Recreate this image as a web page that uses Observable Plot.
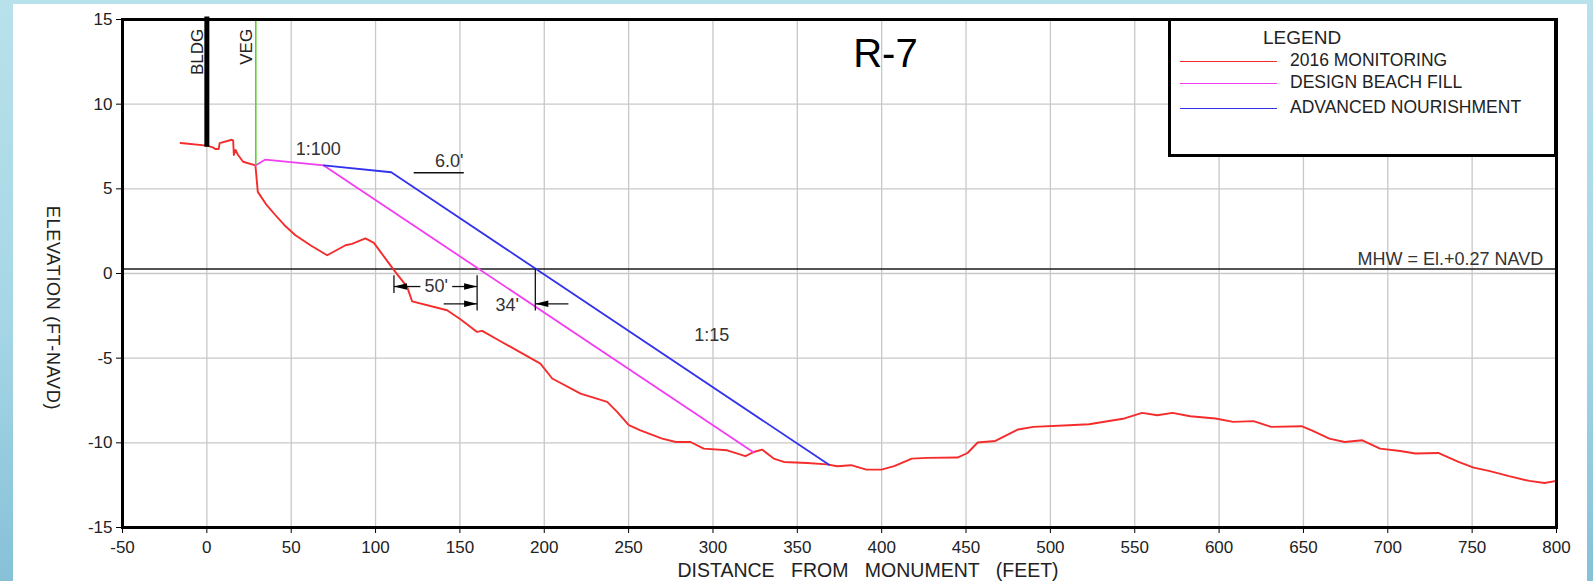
<!DOCTYPE html>
<html>
<head>
<meta charset="utf-8">
<script src="https://cdn.jsdelivr.net/npm/d3@7"></script>
<script src="https://cdn.jsdelivr.net/npm/@observablehq/plot@0.6"></script>
<style>
  html, body { margin: 0; padding: 0; }
  body {
    width: 1593px; height: 581px; overflow: hidden; position: relative;
    background: linear-gradient(180deg, #b8e1eb 0%, #a6d6e6 55%, #86c1d8 100%);
    font-family: "Liberation Sans", Arial, sans-serif;
  }
  #sheet { position: absolute; left: 13px; top: 4px; width: 1574px; height: 577px; background: #fff; }
  #legend {
    position: absolute; left: 1168px; top: 17.5px; width: 389px; height: 139px;
    box-sizing: border-box; border: 3px solid #000; background: #fff; color: #222;
  }
  #legend .t { position: absolute; transform: translateY(-50%); white-space: nowrap; line-height: 1; }
  #legend .l { position: absolute; height: 0; border-top: 1.6px solid; width: 97px; }
</style>
</head>
<body>
<div id="sheet"></div>
<div id="legend"></div>
<script>
// ---------- data ----------
const xTicks = [-50, 0, 50, 100, 150, 200, 250, 300, 350, 400, 450, 500, 550, 600, 650, 700, 750, 800];
const yTicks = [-15, -10, -5, 0, 5, 10, 15];

const seriesNames = ["2016 MONITORING", "DESIGN BEACH FILL", "ADVANCED NOURISHMENT"];
const seriesColors = ["#f42c2c", "#f23ef2", "#3232ec"];

// 2016 monitoring profile [distance ft, elevation ft]
const monitoring2016 = [
  [-15.6, 7.71], [0, 7.55], [3.5, 7.45], [5, 7.35], [7, 7.35], [7.6, 7.7], [14.8, 7.9], [15.6, 7.85],
  [16, 7.0], [17, 7.3], [18.5, 7.0], [21.5, 6.6], [28.8, 6.38], [30.2, 4.82], [35, 4.1], [40.7, 3.44],
  [46, 2.85], [52.5, 2.26], [61.4, 1.67], [71.3, 1.08], [82.2, 1.67], [86, 1.75], [94, 2.07], [99, 1.81],
  [110.9, 0.2], [118.7, -0.79], [121.7, -1.65], [142.4, -2.17], [150.3, -2.7], [160.2, -3.45], [163.2, -3.39],
  [173, -3.94], [197.7, -5.32], [204.7, -6.2], [221.5, -7.09], [237.3, -7.58], [243.2, -8.17], [250.1, -8.96],
  [257, -9.26], [269.9, -9.75], [278, -9.95], [286.7, -9.95], [294.5, -10.34], [308.4, -10.44], [319.2, -10.79],
  [324.2, -10.54], [329.1, -10.4], [336, -10.93], [342, -11.13], [355.8, -11.19], [367.7, -11.27], [373.6, -11.38],
  [381.9, -11.32], [390.9, -11.58], [399.9, -11.58], [407.4, -11.38], [417.9, -10.93], [426.9, -10.89],
  [444.9, -10.87], [450.9, -10.6], [456.9, -9.98], [467.4, -9.89], [480.9, -9.21], [489.9, -9.06], [510.9, -8.96],
  [522.9, -8.9], [543.9, -8.56], [554.4, -8.23], [563.4, -8.37], [572.4, -8.23], [582.9, -8.43], [597.9, -8.56],
  [608.4, -8.76], [620.4, -8.72], [630.9, -9.06], [648.9, -9.02], [654.9, -9.26], [665.4, -9.75], [674.4, -9.95],
  [684.9, -9.85], [695.4, -10.34], [707.4, -10.48], [716.4, -10.63], [729.9, -10.6], [741.9, -11.13],
  [750.9, -11.46], [759.9, -11.66], [771.9, -11.97], [783.9, -12.25], [792.9, -12.37], [800, -12.25]
];
// design beach fill template vertices
const designBeachFill = [[28.8, 6.38], [34.7, 6.73], [69.3, 6.38], [324.2, -10.57]];
// advanced nourishment template vertices
const advancedNourishment = [[69.3, 6.38], [109.3, 5.98], [368.8, -11.3]];

const mhw = 0.27;
const bldg = {x: 0, y1: 7.45, y2: 15.15};
const veg = {x: 29, y1: 6.38, y2: 15};

// annotations (data coordinates)
const titleNote = [{x: 402.2, y: 12.17, text: "R-7"}];
const slopeNotes = [
  {x: 66.0, y: 6.99, text: "1:100"},
  {x: 143.6, y: 6.28, text: "6.0'"},
  {x: 136.0, y: -1.10, text: "50'"},
  {x: 178.0, y: -2.22, text: "34'"},
  {x: 299.3, y: -3.96, text: "1:15"}
];
const mhwNote = [{x: 792.1, y: 0.53, text: "MHW = El.+0.27 NAVD"}];
const verticalNotes = [
  {x: -2.2, y: 14.45, text: "BLDG"},
  {x: 26.85, y: 14.45, text: "VEG"}
];
const dimSegments = [
  {x1: 122.6, y1: 5.95, x2: 152.3, y2: 5.95},    // 6.0' underline
  {x1: 110.9, y1: -0.1, x2: 110.9, y2: -1.15},   // 50' left extension
  {x1: 110.9, y1: -0.77, x2: 126.6, y2: -0.77},  // 50' left leader
  {x1: 145.4, y1: -0.77, x2: 160.2, y2: -0.77},  // 50' right leader
  {x1: 160.2, y1: -0.1, x2: 160.2, y2: -2.19},   // shared extension
  {x1: 140.4, y1: -1.79, x2: 160.2, y2: -1.79},  // 34' left leader
  {x1: 194.7, y1: 0.3, x2: 194.7, y2: -2.19},    // 34' right extension
  {x1: 194.7, y1: -1.79, x2: 214.3, y2: -1.79}   // 34' right leader
];
const arrowsRight = [{x: 160.2, y: -0.77}, {x: 160.2, y: -1.79}];
const arrowsLeft = [{x: 110.9, y: -0.77}, {x: 194.7, y: -1.79}];

const xLabel = "DISTANCE FROM MONUMENT (FEET)";
const yLabel = "ELEVATION (FT-NAVD)";

// ---------- symbols ----------
const arrowRightSym = {draw(ctx) { ctx.moveTo(0, 0); ctx.lineTo(-13, -3.3); ctx.lineTo(-13, 3.3); ctx.closePath(); }};
const arrowLeftSym = {draw(ctx) { ctx.moveTo(0, 0); ctx.lineTo(13, -3.3); ctx.lineTo(13, 3.3); ctx.closePath(); }};

const font = "'Liberation Sans', Arial, Helvetica, sans-serif";

const chart = Plot.plot({
  width: 1574,
  height: 577,
  marginLeft: 109,
  marginRight: 31,
  marginTop: 15,
  marginBottom: 54,
  x: {domain: [-50, 800]},
  y: {domain: [-15, 15]},
  style: {fontFamily: font, fontSize: "17px", color: "#222", background: "transparent", overflow: "visible"},
  marks: [
    Plot.gridX(xTicks, {stroke: "#c8c8c8", strokeOpacity: 1, strokeWidth: 1.3}),
    Plot.gridY(yTicks, {stroke: "#c8c8c8", strokeOpacity: 1, strokeWidth: 1.3}),
    Plot.ruleY([mhw], {stroke: "#1a1a1a", strokeWidth: 1.4}),
    Plot.line(monitoring2016, {x: d => d[0], y: d => d[1], stroke: seriesColors[0], strokeWidth: 1.9}),
    Plot.line(designBeachFill, {x: d => d[0], y: d => d[1], stroke: seriesColors[1], strokeWidth: 1.8}),
    Plot.line(advancedNourishment, {x: d => d[0], y: d => d[1], stroke: seriesColors[2], strokeWidth: 1.8}),
    Plot.ruleX([veg], {x: "x", y1: "y1", y2: "y2", stroke: "#5ad22a", strokeWidth: 1.6}),
    Plot.ruleX([bldg], {x: "x", y1: "y1", y2: "y2", stroke: "#000", strokeWidth: 5}),
    Plot.link(dimSegments, {x1: "x1", y1: "y1", x2: "x2", y2: "y2", stroke: "#111", strokeWidth: 1.3}),
    Plot.dot(arrowsRight, {x: "x", y: "y", symbol: arrowRightSym, fill: "#000", stroke: null}),
    Plot.dot(arrowsLeft, {x: "x", y: "y", symbol: arrowLeftSym, fill: "#000", stroke: null}),
    Plot.text(titleNote, {x: "x", y: "y", text: "text", fontSize: 40, lineAnchor: "bottom", textAnchor: "middle", fill: "#000"}),
    Plot.text(slopeNotes, {x: "x", y: "y", text: "text", fontSize: 18, lineAnchor: "bottom", textAnchor: "middle", fill: "#333"}),
    Plot.text(mhwNote, {x: "x", y: "y", text: "text", fontSize: 18, lineAnchor: "bottom", textAnchor: "end", fill: "#333"}),
    Plot.text(verticalNotes, {x: "x", y: "y", text: "text", fontSize: 17, rotate: -90, lineAnchor: "bottom", textAnchor: "end", fill: "#222"}),
    Plot.axisX(xTicks, {tickSize: 6, tickPadding: 7, label: null, fontSize: 17, tickFormat: d => String(d), stroke: "#000"}),
    Plot.axisY(yTicks, {tickSize: 6, tickPadding: 4, label: null, fontSize: 17, tickFormat: d => String(d), stroke: "#000"}),
    Plot.text([xLabel], {frameAnchor: "bottom", dx: 28.5, dy: 49.7, lineAnchor: "bottom", textAnchor: "middle", fontSize: 19.5, fill: "#222"}),
    Plot.text([yLabel], {frameAnchor: "left", dx: -70, dy: 34.5, rotate: 90, lineAnchor: "middle", textAnchor: "middle", fontSize: 18, fill: "#222"}),
    Plot.frame({stroke: "#000", strokeWidth: 3})
  ]
});

d3.select(chart).selectAll("text")
  .filter(function () { return this.textContent === xLabel; })
  .style("word-spacing", "11px");
d3.select(chart).selectAll("text")
  .filter(function () { return this.textContent === yLabel; })
  .style("letter-spacing", "0.7px");

document.getElementById("sheet").appendChild(chart);

// ---------- legend ----------
const legend = document.getElementById("legend");
const head = document.createElement("div");
head.className = "t";
head.textContent = "LEGEND";
head.style.left = "92px"; head.style.top = "16.5px"; head.style.fontSize = "19px";
legend.appendChild(head);
const rowY = [40.5, 62.5, 87.5];
seriesNames.forEach((name, i) => {
  const ln = document.createElement("div");
  ln.className = "l";
  ln.style.left = "9px"; ln.style.top = rowY[i] + "px"; ln.style.borderTopColor = seriesColors[i];
  legend.appendChild(ln);
  const tx = document.createElement("div");
  tx.className = "t";
  tx.textContent = name;
  tx.style.left = "119px"; tx.style.top = rowY[i] + "px"; tx.style.fontSize = "17.5px";
  legend.appendChild(tx);
});
</script>
</body>
</html>
